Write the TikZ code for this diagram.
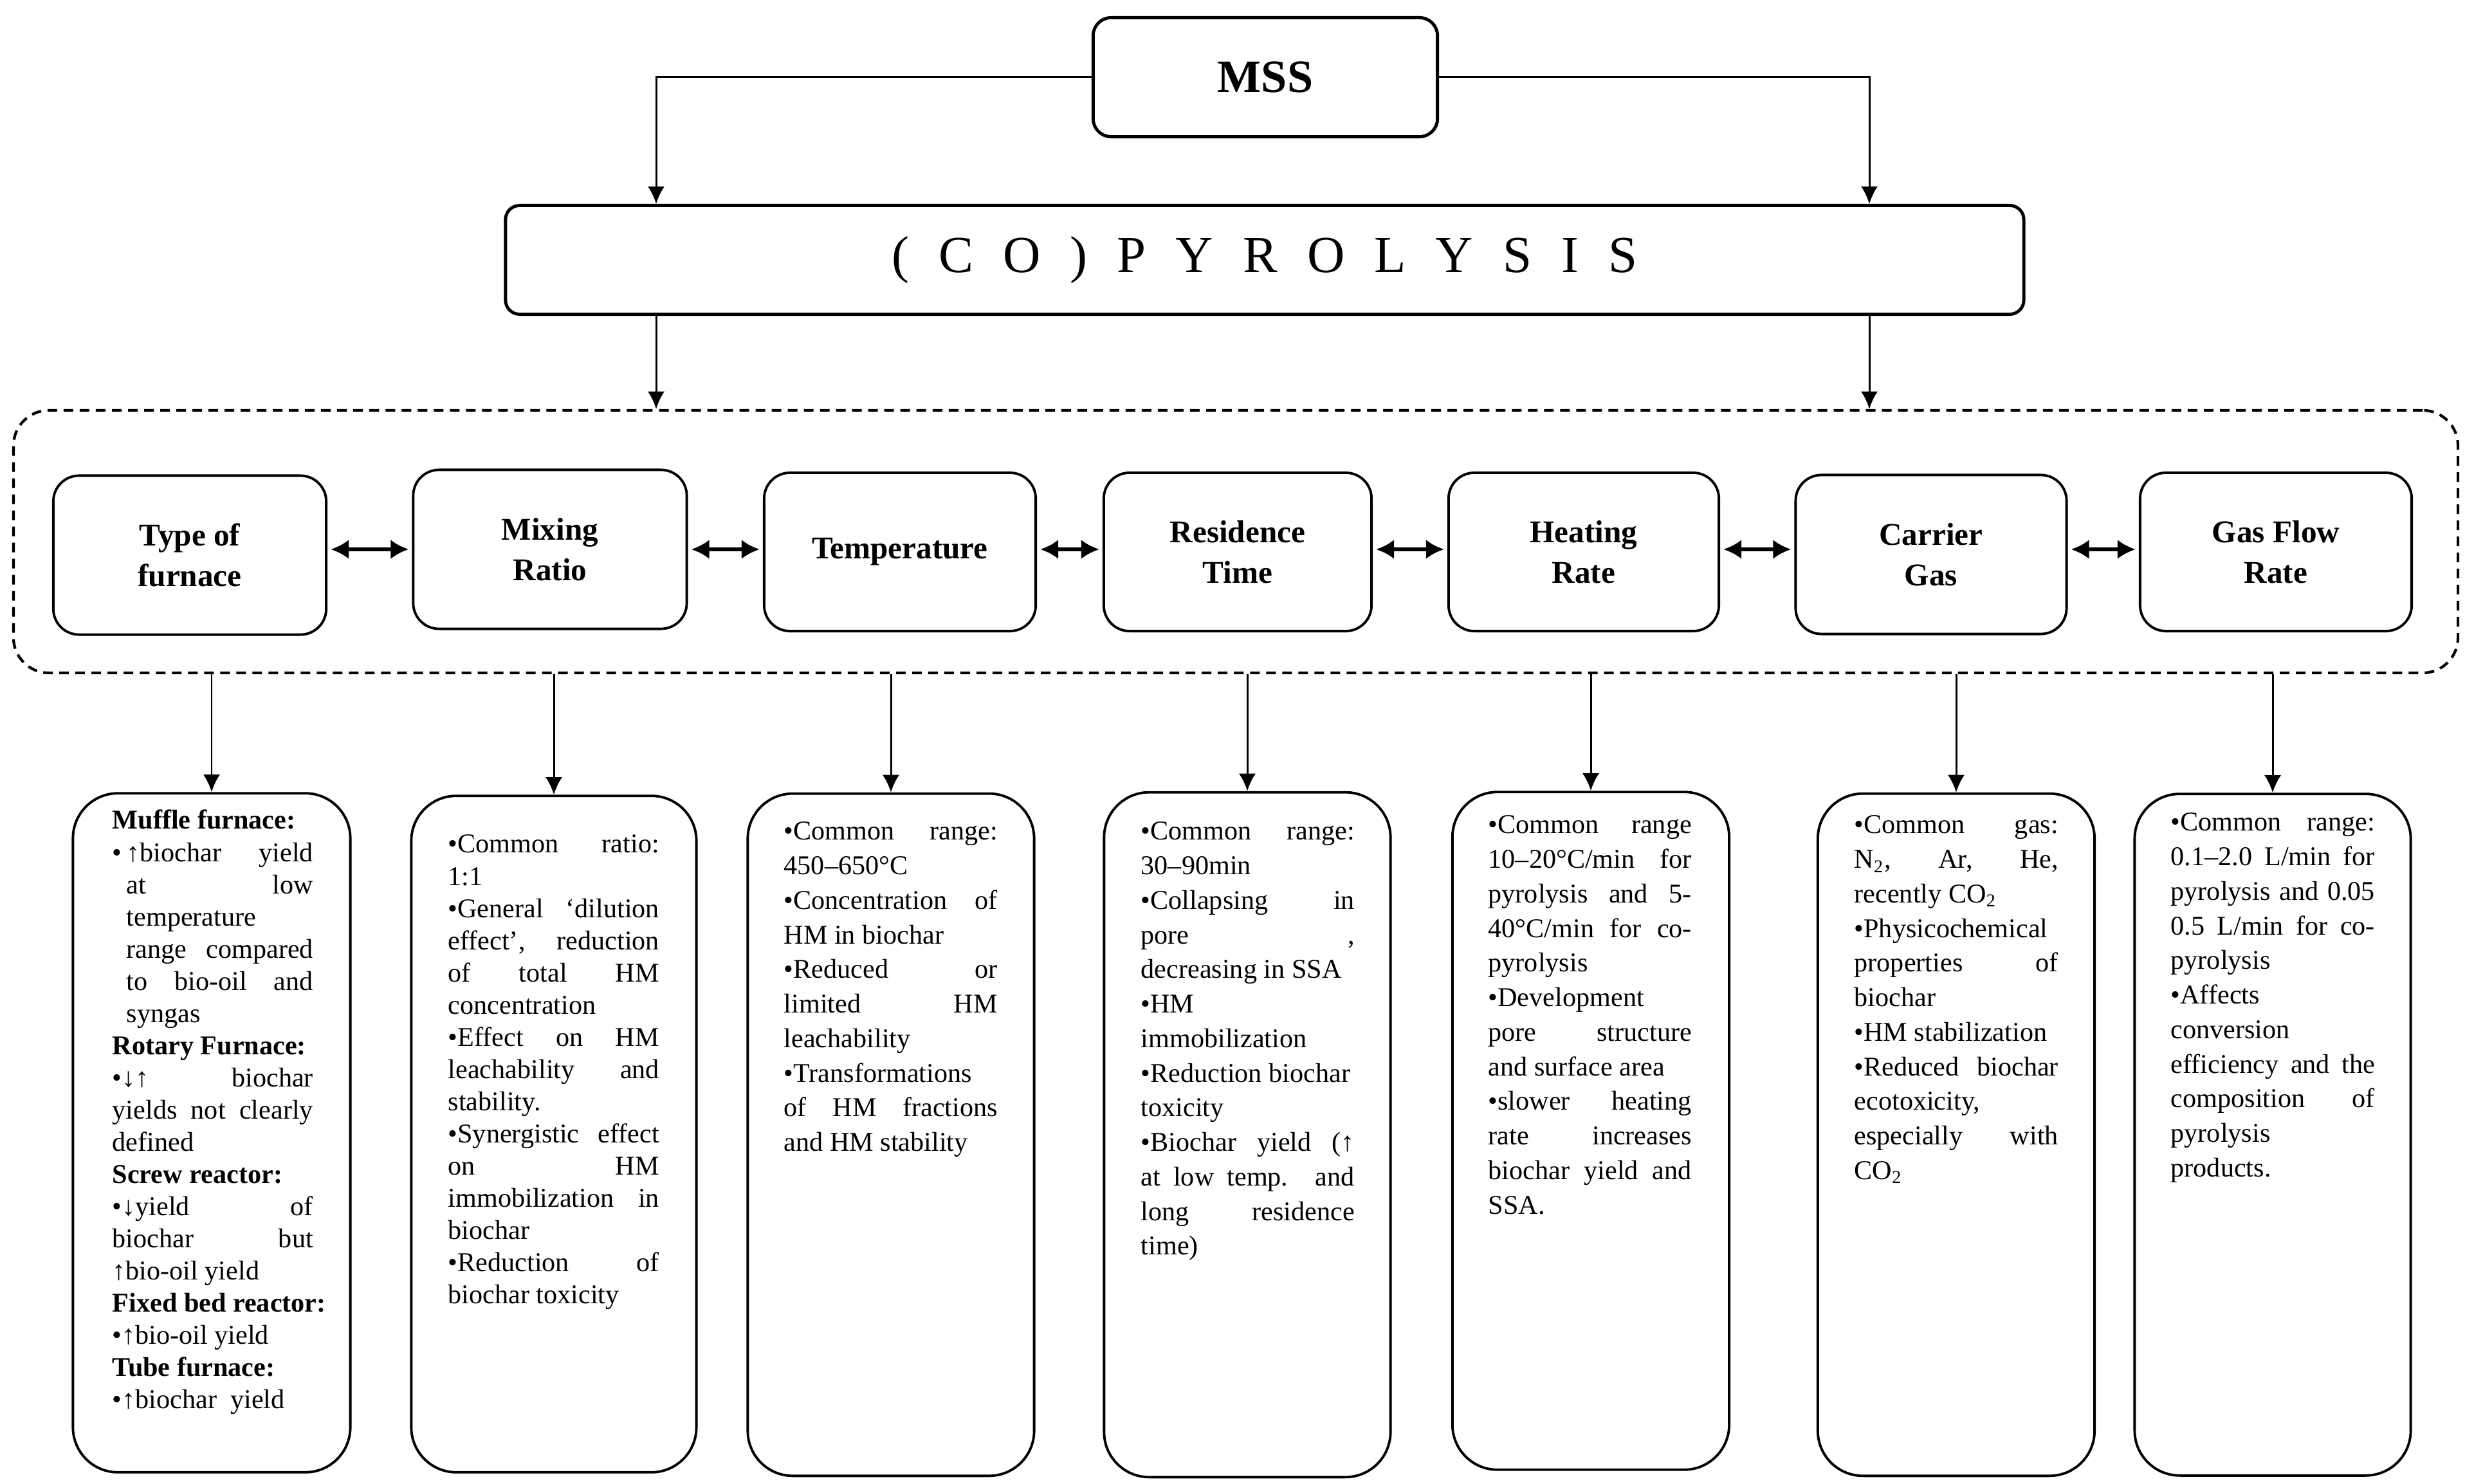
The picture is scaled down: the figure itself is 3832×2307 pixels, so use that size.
\documentclass[tikz,border=0pt]{standalone}
\usepackage{fontspec}
\setmainfont{Liberation Serif}
\usetikzlibrary{arrows.meta}
\newlength{\bw}
\newcommand{\J}[1]{\hbox to \bw{#1}}
\newcommand{\Lt}[1]{\hbox to \bw{#1\hfil}}
\newcommand{\Hd}[1]{\hbox{\bfseries #1}}
\newcommand{\up}{{\bfseries ↑}}
\newcommand{\dn}{{\bfseries ↓}}
\tikzset{
  dbox/.style={draw, line width=1.1pt, rounded corners=0.7cm, inner sep=0pt},
  pbox/.style={draw, line width=1.1pt, rounded corners=0.4cm, align=center, inner sep=0pt,
    font=\fontsize{14}{18}\selectfont\bfseries},
  topbox/.style={draw, line width=1.4pt, rounded corners=0.28cm, inner sep=0pt},
  arr/.style={-{Latex[length=0.27cm,width=0.26cm]}, line width=0.85pt},
  darr/.style={{Latex[length=0.28cm,width=0.3cm]}-{Latex[length=0.28cm,width=0.3cm]},
    line width=1.5pt, shorten <=0.05cm, shorten >=0.05cm},
  txta/.style={anchor=base west, inner sep=0pt, font=\fontsize{12}{14.23}\selectfont},
  txtb/.style={anchor=base west, inner sep=0pt, font=\fontsize{12}{15.28}\selectfont},
}
\begin{document}
\begin{tikzpicture}[x=0.01cm,y=-0.01cm]
\useasboundingbox (0,0) rectangle (3832,2307);

% top
\node[topbox, minimum width=5.35cm, minimum height=1.85cm, font=\fontsize{20.5}{24}\selectfont\bfseries] (mss) at (1967,120) {MSS};
\node[topbox, rounded corners=0.22cm, minimum width=23.59cm, minimum height=1.69cm, font=\fontsize{23}{28}\selectfont] (pyro) at (1966,404) {\makebox[11.58cm][s]{( C O ) P Y R O L Y S I S}\hspace{0.44cm}};
\coordinate (cL) at (1020,0);
\coordinate (cR) at (2906,0);

% dashed group
\node[draw, dashed, dash pattern=on 0.15cm off 0.1cm, line width=1.2pt, rounded corners=0.55cm,
  minimum width=37.98cm, minimum height=4.08cm, inner sep=0pt] (grp) at (1921,842) {};

\draw[arr] (mss.west) -| (cL |- pyro.north);
\draw[arr] (mss.east) -| (cR |- pyro.north);
\draw[arr] (cL |- pyro.south) -- (cL |- grp.north);
\draw[arr] (cR |- pyro.south) -- (cR |- grp.north);

% parameter boxes
\node[pbox, minimum width=4.24cm, minimum height=2.47cm] (p1) at (295,863) {Type of\\furnace};
\node[pbox, minimum width=4.25cm, minimum height=2.47cm] (p2) at (855,854) {Mixing\\Ratio};
\node[pbox, minimum width=4.22cm, minimum height=2.46cm] (p3) at (1399,858) {Temperature};
\node[pbox, minimum width=4.16cm, minimum height=2.46cm] (p4) at (1924,858) {Residence\\Time};
\node[pbox, minimum width=4.20cm, minimum height=2.46cm] (p5) at (2462,858) {Heating\\Rate};
\node[pbox, minimum width=4.21cm, minimum height=2.47cm] (p6) at (3002,862) {Carrier\\Gas};
\node[pbox, minimum width=4.22cm, minimum height=2.46cm] (p7) at (3538,858) {Gas Flow\\Rate};

\coordinate (ay) at (0,854);
\foreach \a/\b in {p1/p2,p2/p3,p3/p4,p4/p5,p5/p6,p6/p7}
  \draw[darr] (\a.east |- ay) -- (\b.west |- ay);

% detail boxes
\node[dbox, minimum width=4.31cm, minimum height=10.55cm] (d1) at (329,1761) {};
\node[dbox, minimum width=4.43cm, minimum height=10.51cm] (d2) at (861,1763) {};
\node[dbox, minimum width=4.45cm, minimum height=10.60cm] (d3) at (1385,1764) {};
\node[dbox, minimum width=4.45cm, minimum height=10.64cm] (d4) at (1939,1764) {};
\node[dbox, minimum width=4.30cm, minimum height=10.53cm] (d5) at (2473,1758) {};
\node[dbox, minimum width=4.30cm, minimum height=10.60cm] (d6) at (3041,1764) {};
\node[dbox, minimum width=4.29cm, minimum height=10.59cm] (d7) at (3533,1764) {};

\foreach \d in {d1,d2,d3,d4,d5,d6,d7}
  \draw[arr] (\d.north |- grp.south) -- (\d.north);

% texts
\node[txta] (t1) at (174,1289) {\setlength{\bw}{3.12cm}\vtop{%
\Hd{Muffle furnace:}
\J{\hbox to 0.22cm{•\hfil}\up biochar yield}
\J{\kern0.22cm\relax at low}
\Lt{\kern0.22cm\relax temperature}
\J{\kern0.22cm\relax range compared}
\J{\kern0.22cm\relax to bio-oil and}
\Lt{\kern0.22cm\relax syngas}
\Hd{Rotary Furnace:}
\J{•\dn\up{} biochar}
\J{yields not clearly}
\Lt{defined}
\Hd{Screw reactor:}
\J{•\dn yield of}
\J{biochar but}
\Lt{\up bio-oil yield}
\Hd{Fixed bed reactor:}
\Lt{•\up bio-oil yield}
\Hd{Tube furnace:}
\Lt{•\up biochar\ \ yield}}};

\node[txta] (t2) at (696,1326) {\setlength{\bw}{3.28cm}\vtop{%
\J{•Common ratio:}
\Lt{1:1}
\J{•General ‘dilution}
\J{effect’, reduction}
\J{of total HM}
\Lt{concentration}
\J{•Effect on HM}
\J{leachability and}
\Lt{stability.}
\J{•Synergistic effect}
\J{on HM}
\J{immobilization in}
\Lt{biochar}
\J{•Reduction of}
\Lt{biochar toxicity}}};

\node[txtb] (t3) at (1218,1306) {\setlength{\bw}{3.32cm}\vtop{%
\J{•Common range:}
\Lt{450–650°C}
\J{•Concentration of}
\Lt{HM in biochar}
\J{•Reduced or}
\J{limited HM}
\Lt{leachability}
\Lt{•Transformations}
\J{of HM fractions}
\Lt{and HM stability}}};

\node[txtb] (t4) at (1773,1306) {\setlength{\bw}{3.32cm}\vtop{%
\J{•Common range:}
\Lt{30–90min}
\J{•Collapsing in}
\J{pore ,}
\Lt{decreasing in SSA}
\Lt{•HM}
\Lt{immobilization}
\Lt{•Reduction biochar}
\Lt{toxicity}
\J{•Biochar yield (\up}
\J{at low temp. and}
\J{long residence}
\Lt{time)}}};

\node[txtb] (t5) at (2313,1296) {\setlength{\bw}{3.16cm}\vtop{%
\J{•Common range}
\J{10–20°C/min for}
\J{pyrolysis and 5-}
\J{40°C/min for co-}
\Lt{pyrolysis}
\Lt{•Development}
\J{pore structure}
\Lt{and surface area}
\J{•slower heating}
\J{rate increases}
\J{biochar yield and}
\Lt{SSA.}}};

\node[txtb] (t6) at (2882,1296) {\setlength{\bw}{3.17cm}\vtop{%
\J{•Common gas:}
\J{N\textsubscript{2}, Ar, He,}
\Lt{recently CO\textsubscript{2}}
\Lt{•Physicochemical}
\J{properties of}
\Lt{biochar}
\Lt{•HM stabilization}
\J{•Reduced biochar}
\Lt{ecotoxicity,}
\J{especially with}
\Lt{CO\textsubscript{2}}}};

\node[txtb] (t7) at (3374,1292) {\setlength{\bw}{3.17cm}\vtop{%
\J{•Common range:}
\J{0.1–2.0 L/min for}
\J{pyrolysis and 0.05}
\J{0.5 L/min for co-}
\Lt{pyrolysis}
\Lt{•Affects}
\Lt{conversion}
\J{efficiency and the}
\J{composition of}
\Lt{pyrolysis}
\Lt{products.}}};
\end{tikzpicture}
\end{document}
